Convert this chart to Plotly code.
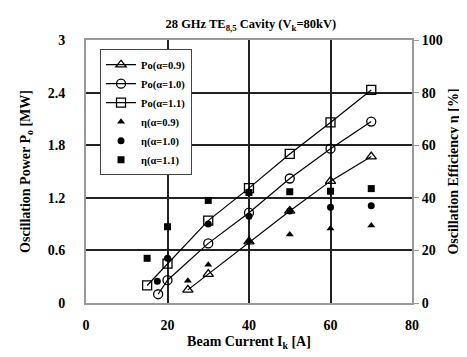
import plotly.graph_objects as go

# Beam current [A] and oscillation power [MW]
x_po09 = [25, 30, 40, 50, 60, 70]
po09 = [0.15, 0.33, 0.70, 1.05, 1.39, 1.67]
x_po10 = [17.7, 20, 30, 40, 50, 60, 70]
po10 = [0.10, 0.26, 0.68, 1.03, 1.42, 1.76, 2.07]
x_po11 = [15, 20, 30, 40, 50, 60, 70]
po11 = [0.20, 0.45, 0.94, 1.31, 1.70, 2.06, 2.43]

# Oscillation efficiency [%]
x_eta09 = [25, 30, 40, 50, 60, 70]
eta09 = [8.5, 14.5, 23.5, 26.0, 28.3, 29.5]
x_eta10 = [17.5, 20, 30, 40, 50, 60, 70]
eta10 = [8.3, 17.0, 30.0, 33.0, 35.0, 36.4, 37.0]
x_eta11 = [15, 20, 30, 40, 50, 60, 70]
eta11 = [17.0, 29.0, 39.0, 42.0, 42.3, 42.5, 43.5]

# Tick labels
x_ticks = [0, 20, 40, 60, 80]
y_ticks = [0, 0.6, 1.2, 1.8, 2.4, 3]
y_tick_labels = ["0", "0.6", "1.2", "1.8", "2.4", "3"]
y2_ticks = [0, 20, 40, 60, 80, 100]

FONT = "Liberation Serif"
BFONT = dict(family=FONT, size=14, color="black", weight="bold")


def bold(labels):
    return ["<b>%s</b>" % l for l in labels]


fig = go.Figure()

line_style = dict(color="black", width=1.2)
fig.add_trace(go.Scatter(x=x_po09, y=po09, mode="lines+markers", name="Po(α=0.9)",
                         line=line_style,
                         marker=dict(symbol="triangle-up-open", size=9, color="black", line=dict(width=1.3))))
fig.add_trace(go.Scatter(x=x_po10, y=po10, mode="lines+markers", name="Po(α=1.0)",
                         line=line_style,
                         marker=dict(symbol="circle-open", size=9, color="black", line=dict(width=1.3))))
fig.add_trace(go.Scatter(x=x_po11, y=po11, mode="lines+markers", name="Po(α=1.1)",
                         line=line_style,
                         marker=dict(symbol="square-open", size=9, color="black", line=dict(width=1.3))))
fig.add_trace(go.Scatter(x=x_eta09, y=eta09, mode="markers", name="η(α=0.9)", yaxis="y2",
                         marker=dict(symbol="triangle-up", size=7, color="black")))
fig.add_trace(go.Scatter(x=x_eta10, y=eta10, mode="markers", name="η(α=1.0)", yaxis="y2",
                         marker=dict(symbol="circle", size=7, color="black")))
fig.add_trace(go.Scatter(x=x_eta11, y=eta11, mode="markers", name="η(α=1.1)", yaxis="y2",
                         marker=dict(symbol="square", size=7, color="black")))

fig.update_layout(
    width=467, height=357,
    margin=dict(l=78, r=63, t=32, b=62),
    paper_bgcolor="white", plot_bgcolor="white",
    font=BFONT,
    title=dict(text="28 GHz TE<sub>8,5</sub> Cavity (V<sub>k</sub>=80kV)",
               x=0.52, xanchor="center", y=0.955, yanchor="middle",
               font=dict(family=FONT, size=12.5, color="black", weight="bold")),
    xaxis=dict(range=[0, 80], tickvals=x_ticks, ticktext=bold([str(v) for v in x_ticks]),
               showgrid=True, gridcolor="#222", gridwidth=1.5,
               showline=True, linecolor="#999", linewidth=2, mirror=True,
               ticks="", tickfont=BFONT, zeroline=False, ticklabelstandoff=8,
               title=dict(text="Beam Current I<sub>k</sub> [A]", standoff=4, font=BFONT)),
    yaxis=dict(range=[0, 3], tickvals=y_ticks, ticktext=bold(y_tick_labels),
               showgrid=True, gridcolor="#222", gridwidth=1.5,
               showline=True, linecolor="#999", linewidth=2, mirror=True,
               ticks="", zeroline=False, ticklabelstandoff=16, tickfont=BFONT,
               title=dict(text="Oscillation Power P<sub>o</sub> [MW]", standoff=14, font=BFONT)),
    yaxis2=dict(range=[0, 100], tickvals=y2_ticks, ticktext=bold([str(v) for v in y2_ticks]),
                overlaying="y", side="right",
                showgrid=False, zeroline=False, showline=False,
                ticks="outside", ticklen=6, tickcolor="#999", tickwidth=1, tickfont=BFONT,
                title=dict(text="Oscillation Efficiency η [%]", standoff=6, font=BFONT)),
    legend=dict(x=0.043, y=0.965, xanchor="left", yanchor="top",
                bgcolor="white", bordercolor="#444", borderwidth=1,
                font=dict(family=FONT, size=10.5, color="black", weight="bold"),
                itemwidth=30, tracegroupgap=0),
)

fig.write_html("out.html")
